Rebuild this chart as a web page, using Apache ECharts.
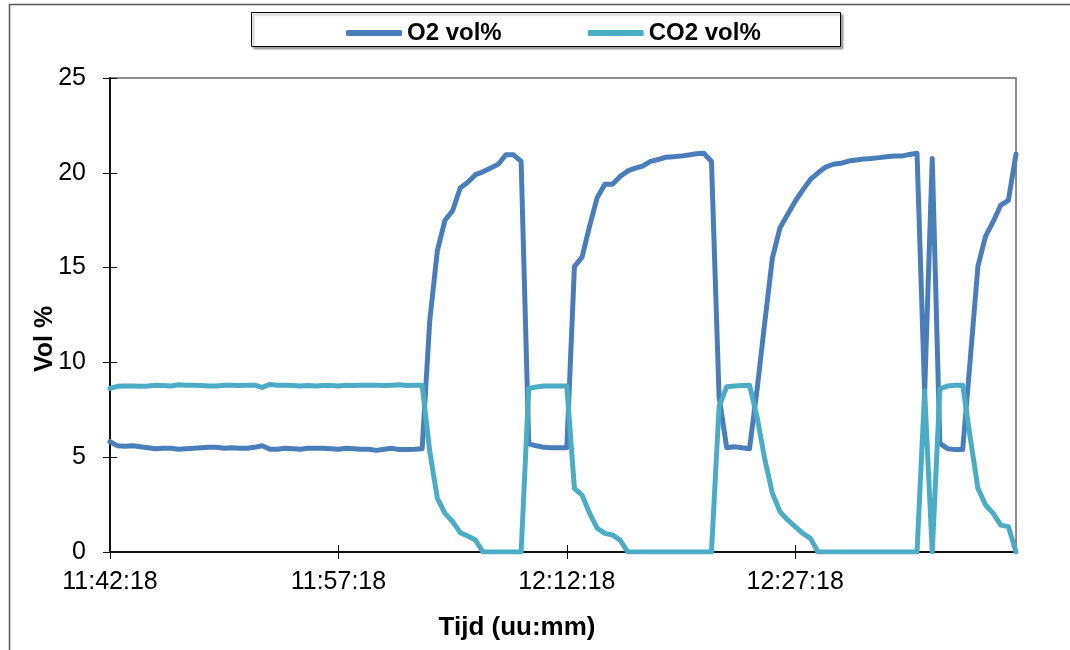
<!DOCTYPE html>
<html>
<head>
<meta charset="utf-8">
<script src="https://cdn.jsdelivr.net/npm/echarts@6/dist/echarts.min.js"></script>
<style>
  html, body { margin: 0; padding: 0; background: #fff; }
  #chart { width: 1070px; height: 650px; }
</style>
</head>
<body>
<div id="chart"></div>
<script>
// ---- data (samples every 30 s, starting 11:42:18) ----
const startTime = '11:42:18';
const sampleStepSeconds = 30;
const sampleCount = 120;

const o2Values = [
  5.82, 5.60, 5.58, 5.60, 5.55, 5.50, 5.45, 5.47, 5.47, 5.42,
  5.45, 5.47, 5.50, 5.52, 5.52, 5.47, 5.50, 5.47, 5.47, 5.52,
  5.60, 5.42, 5.42, 5.47, 5.45, 5.42, 5.47, 5.47, 5.47, 5.45,
  5.42, 5.47, 5.45, 5.42, 5.42, 5.36, 5.42, 5.47, 5.40, 5.40,
  5.42, 5.45, 12.2, 15.9, 17.5, 18.0, 19.2, 19.5, 19.9, 20.05,
  20.25, 20.45, 20.95, 20.95, 20.6, 5.7, 5.6, 5.52, 5.5, 5.5,
  5.5, 15.05, 15.55, 17.2, 18.7, 19.4, 19.4, 19.8, 20.1, 20.25,
  20.36, 20.6, 20.7, 20.82, 20.85, 20.88, 20.94, 21.0, 21.03, 20.6,
  8.2, 5.5, 5.55, 5.5, 5.45, 8.6, 12.1, 15.5, 17.1, 17.8,
  18.5, 19.1, 19.65, 20.0, 20.3, 20.45, 20.5, 20.62, 20.68, 20.73,
  20.76, 20.8, 20.85, 20.88, 20.88, 20.97, 21.03, 8.4, 20.76, 5.73,
  5.45, 5.4, 5.4, 10.2, 15.08, 16.65, 17.42, 18.3, 18.55, 20.99
];

const co2Values = [
  8.63, 8.74, 8.76, 8.75, 8.74, 8.76, 8.80, 8.78, 8.76, 8.82,
  8.80, 8.80, 8.78, 8.76, 8.76, 8.80, 8.80, 8.78, 8.80, 8.80,
  8.68, 8.84, 8.80, 8.80, 8.78, 8.76, 8.78, 8.76, 8.78, 8.78,
  8.76, 8.80, 8.78, 8.80, 8.80, 8.80, 8.78, 8.80, 8.82, 8.78,
  8.80, 8.80, 5.3, 2.83, 2.04, 1.6, 1.02, 0.84, 0.63, 0,
  0, 0, 0, 0, 0, 8.63, 8.7, 8.75, 8.75, 8.75,
  8.75, 3.36, 3.0, 2.04, 1.25, 0.98, 0.9, 0.63, 0, 0,
  0, 0, 0, 0, 0, 0, 0, 0, 0, 0,
  7.66, 8.72, 8.75, 8.78, 8.8, 7.1, 4.9, 3.1, 2.13, 1.69,
  1.34, 0.98, 0.72, 0, 0, 0, 0, 0, 0, 0,
  0, 0, 0, 0, 0, 0, 0, 8.5, 0, 8.6,
  8.75, 8.8, 8.8, 6.0, 3.36, 2.48, 2.04, 1.42, 1.34, 0
];

const seriesNames = ['O2 vol%', 'CO2 vol%'];
const yTicks = [0, 5, 10, 15, 20, 25];
const xTitle = 'Tijd (uu:mm)';
const yTitle = 'Vol %';

// category labels (time stamps)
function buildTimes(start, step, n) {
  const p = start.split(':').map(Number);
  let s0 = p[0] * 3600 + p[1] * 60 + p[2];
  const out = [];
  for (let i = 0; i < n; i++) {
    const t = s0 + i * step;
    const h = Math.floor(t / 3600), m = Math.floor((t % 3600) / 60), s = t % 60;
    out.push(h + ':' + String(m).padStart(2, '0') + ':' + String(s).padStart(2, '0'));
  }
  return out;
}
const categories = buildTimes(startTime, sampleStepSeconds, sampleCount);

// ---- chart ----
const FONT = '"Liberation Sans", Arial, sans-serif';
const chart = echarts.init(document.getElementById('chart'), null, { renderer: 'canvas' });

const xBase = {
  type: 'category', data: categories, boundaryGap: false,
  splitLine: { show: false }
};
const yBase = {
  type: 'value', min: yTicks[0], max: yTicks[yTicks.length - 1], interval: 5,
  splitLine: { show: false }
};

chart.setOption({
  animation: false,
  backgroundColor: '#fff',
  grid: {
    left: 110, right: 54, top: 78, bottom: 98,
    show: true, borderColor: '#8c8c8c', borderWidth: 2, backgroundColor: 'transparent'
  },
  legend: {
    left: 341, top: 16,
    data: seriesNames,
    icon: 'roundRect',
    itemWidth: 56, itemHeight: 6, itemGap: 86,
    textStyle: { fontSize: 24, fontWeight: 'bold', color: '#000', fontFamily: FONT },
    z: 10
  },
  xAxis: [
    Object.assign({}, xBase, {
      axisLine: { lineStyle: { color: '#111', width: 2 } },
      axisTick: { show: true, interval: 29, length: 7, lineStyle: { color: '#111', width: 1 } },
      axisLabel: { interval: 29, fontSize: 25, color: '#000', margin: 18, fontFamily: FONT }
    }),
    Object.assign({}, xBase, {
      position: 'bottom',
      axisLine: { show: false },
      axisTick: { show: true, inside: true, interval: 29, length: 7, lineStyle: { color: '#111', width: 1 } },
      axisLabel: { show: false }
    })
  ],
  yAxis: [
    Object.assign({}, yBase, {
      axisLine: { show: true, lineStyle: { color: '#111', width: 2 } },
      axisTick: { show: true, length: 7, lineStyle: { color: '#111', width: 1 } },
      axisLabel: { fontSize: 25, color: '#000', margin: 24, fontFamily: FONT }
    }),
    Object.assign({}, yBase, {
      position: 'left',
      axisLine: { show: false },
      axisTick: { show: true, inside: true, length: 7, lineStyle: { color: '#111', width: 1 } },
      axisLabel: { show: false }
    })
  ],
  series: [
    {
      name: seriesNames[0], type: 'line', data: o2Values,
      xAxisIndex: 0, yAxisIndex: 0,
      symbol: 'none', showSymbol: false,
      lineStyle: { width: 5, color: '#4a7ebb', join: 'round', cap: 'round' },
      itemStyle: { color: '#4a7ebb' }
    },
    {
      name: seriesNames[1], type: 'line', data: co2Values,
      xAxisIndex: 0, yAxisIndex: 0,
      symbol: 'none', showSymbol: false,
      lineStyle: { width: 5, color: '#4bacc6', join: 'round', cap: 'round' },
      itemStyle: { color: '#4bacc6' }
    }
  ],
  graphic: [
    {
      type: 'polyline', z: 0, silent: true,
      shape: { points: [[9.5, 650], [9.5, 4.5], [1070, 4.5]] },
      style: { stroke: '#555', lineWidth: 1.5, fill: null }
    },
    {
      type: 'rect', z: 1, silent: true,
      shape: { x: 251.5, y: 12.5, width: 589, height: 34 },
      style: {
        fill: '#fff', stroke: '#000', lineWidth: 1,
        shadowColor: 'rgba(0,0,0,0.35)', shadowOffsetX: 2, shadowOffsetY: 2, shadowBlur: 2
      }
    },
    {
      type: 'text', z: 5, silent: true, x: 517, y: 628,
      style: { text: xTitle, x: 0, y: 0, textAlign: 'center', textVerticalAlign: 'middle',
               font: 'bold 26px ' + FONT, fill: '#000' }
    },
    {
      type: 'text', z: 5, silent: true, x: 45, y: 339, rotation: Math.PI / 2,
      style: { text: yTitle, x: 0, y: 0, textAlign: 'center', textVerticalAlign: 'middle',
               font: 'bold 25px ' + FONT, fill: '#000' }
    }
  ]
});
</script>
</body>
</html>
